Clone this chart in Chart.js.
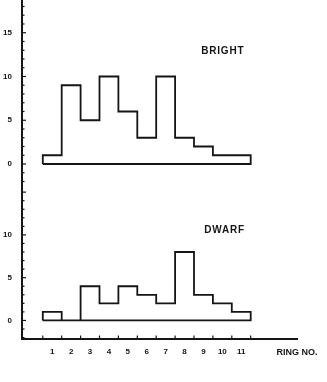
<!DOCTYPE html>
<html>
<head>
<meta charset="utf-8">
<script src="https://cdn.jsdelivr.net/npm/chart.js@4.4.1/dist/chart.umd.min.js"></script>
<style>
  html, body { margin: 0; padding: 0; background: #fff; }
  #wrap { position: relative; width: 327px; height: 382px; }
  #brightBox { position: absolute; left: 0; top: 0; width: 327px; height: 190px; }
  #dwarfBox { position: absolute; left: 0; top: 190px; width: 327px; height: 192px; }
</style>
</head>
<body>
<div id="wrap">
  <div id="brightBox"><canvas id="brightChart"></canvas></div>
  <div id="dwarfBox"><canvas id="dwarfChart"></canvas></div>
</div>
<script>
// ring numbers (histogram bins) and counts
const ringNo = [1, 2, 3, 4, 5, 6, 7, 8, 9, 10, 11];
const brightCounts = [1, 9, 5, 10, 6, 3, 10, 3, 2, 1, 1];
const dwarfCounts = [1, 0, 4, 2, 4, 3, 2, 8, 3, 2, 1];
const brightYTicks = [0, 5, 10, 15];
const dwarfYTicks = [0, 5, 10];
const xAxisTitle = 'RING NO.';

const INK = '#151515';
const X_MIN = -0.6, X_MAX = 13.95;

// closed step outline of a histogram, from the bin values
function outline(vals) {
  const n = ringNo.length;
  const pts = [{ x: ringNo[0] - 0.5, y: 0 }];
  vals.forEach((v, i) => pts.push({ x: ringNo[i] - 0.5, y: v }));
  pts.push({ x: ringNo[n - 1] + 0.5, y: vals[n - 1] });
  pts.push({ x: ringNo[n - 1] + 0.5, y: 0 });
  pts.push({ x: ringNo[0] - 0.5, y: 0 });
  return pts;
}

// small inward tick marks on the axes + the panel label
const marks = {
  id: 'marks',
  afterDraw(chart, args, opts) {
    const ctx = chart.ctx;
    const ys = chart.scales.y, xs = chart.scales.x;
    const area = chart.chartArea;
    ctx.save();
    ctx.strokeStyle = INK;
    ctx.lineWidth = 1.2;
    for (let v = Math.ceil(ys.min); v <= Math.floor(ys.max); v++) {
      const py = ys.getPixelForValue(v);
      const len = v % 5 === 0 ? 4 : 2.5;
      ctx.beginPath();
      ctx.moveTo(area.left, py);
      ctx.lineTo(area.left + len, py);
      ctx.stroke();
    }
    if (opts.xTicks) {
      const edges = [ringNo[0] - 0.5].concat(ringNo.map(r => r + 0.5));
      edges.forEach(e => {
        const px = xs.getPixelForValue(e);
        ctx.beginPath();
        ctx.moveTo(px, area.bottom);
        ctx.lineTo(px, area.bottom - 3.5);
        ctx.stroke();
      });
    }
    ctx.fillStyle = INK;
    ctx.font = 'bold 10px "Liberation Sans", Arial, sans-serif';
    ctx.letterSpacing = '0.8px';
    ctx.textAlign = 'left';
    ctx.textBaseline = 'middle';
    ctx.fillText(opts.label, xs.getPixelForValue(opts.lx), ys.getPixelForValue(opts.ly));
    ctx.restore();
  }
};

function makeChart(id, counts, yMin, yMax, yTicks, showX, label, lx, ly) {
  return new Chart(document.getElementById(id), {
    type: 'line',
    data: {
      datasets: [{
        data: outline(counts),
        stepped: 'before',
        borderColor: INK,
        borderWidth: 1.8,
        borderJoinStyle: 'miter',
        pointRadius: 0,
        fill: false
      }]
    },
    options: {
      responsive: true,
      maintainAspectRatio: false,
      animation: false,
      layout: { padding: { left: 0, right: 30, top: 0, bottom: 0 } },
      plugins: {
        legend: { display: false },
        tooltip: { enabled: false },
        marks: { xTicks: showX, label: label, lx: lx, ly: ly }
      },
      scales: {
        x: {
          type: 'linear',
          display: showX,
          min: X_MIN,
          max: X_MAX,
          afterBuildTicks: s => { s.ticks = ringNo.concat([X_MAX]).map(v => ({ value: v })); },
          afterFit: s => {
            if (showX) { s.height = 43; }
            s.paddingLeft = 0; s.paddingRight = 0;
          },
          grid: { display: false, drawTicks: false },
          border: { display: true, color: INK, width: 2 },
          ticks: {
            autoSkip: false,
            maxRotation: 0,
            padding: 8,
            color: INK,
            font: c => ({ family: '"Liberation Sans", Arial, sans-serif', weight: 'bold', size: c.index === ringNo.length ? 9 : 8 }),
            callback: (v, i) => i < ringNo.length ? String(ringNo[i]) : xAxisTitle
          }
        },
        y: {
          min: yMin,
          max: yMax,
          afterBuildTicks: s => { s.ticks = yTicks.map(v => ({ value: v })); },
          afterFit: s => { s.width = 22; s.paddingTop = 0; s.paddingBottom = 0; },
          grid: { display: false, drawTicks: false },
          border: { display: true, color: INK, width: 2 },
          ticks: {
            autoSkip: false,
            padding: 10,
            color: INK,
            font: { family: '"Liberation Sans", Arial, sans-serif', weight: 'bold', size: 8 }
          }
        }
      }
    },
    plugins: [marks]
  });
}

makeChart('brightChart', brightCounts, -2.97, 18.74, brightYTicks, false, 'BRIGHT', 8.88, 12.9);
makeChart('dwarfChart', dwarfCounts, -2.17, 15.25, dwarfYTicks, true, 'DWARF', 9.04, 10.6);
</script>
</body>
</html>
